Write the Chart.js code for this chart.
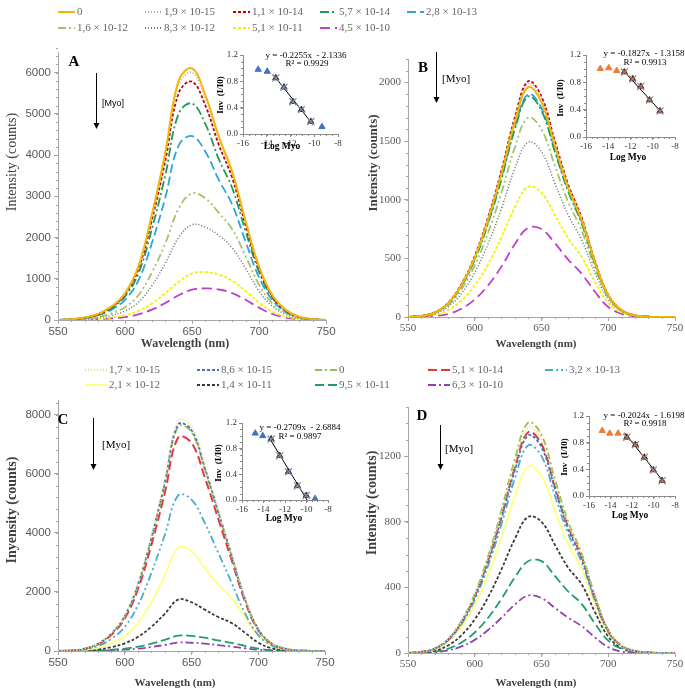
<!DOCTYPE html>
<html>
<head>
<meta charset="utf-8">
<title>Myo quenching spectra</title>
<script src="https://cdn.jsdelivr.net/npm/chart.js@4.4.1/dist/chart.umd.min.js"></script>
<style>
  body { margin: 0; background: #fff; }
  #fig { position: relative; width: 685px; height: 688px; overflow: hidden; font-family: "Liberation Serif", "Times New Roman", serif; }
  #fig canvas { position: absolute; }
  .txt { position: absolute; white-space: pre; line-height: 1; transform: translate(-50%, -50%); }
  .txt.left { transform: translate(0, -50%); }
  .txt.rot { transform: translate(-50%, -50%) rotate(-90deg); }
  .lg { position: absolute; white-space: nowrap; font-size: 11px; color: #666; line-height: 12px; transform: translateY(-50%); }
  .lg svg { vertical-align: middle; margin-right: 2px; }
  #marks { position: absolute; left: 0; top: 0; }
</style>
</head>
<body>
<div id="fig">
  <canvas id="chartA"></canvas>
  <canvas id="chartB"></canvas>
  <canvas id="chartC"></canvas>
  <canvas id="chartD"></canvas>
  <canvas id="insetA"></canvas>
  <canvas id="insetB"></canvas>
  <canvas id="insetC"></canvas>
  <canvas id="insetD"></canvas>
  <svg id="marks" width="685" height="688"></svg>
</div>
<script>
// --- DATA ---
const wavelength = [550, 560, 570, 580, 590, 600, 610, 620, 630, 640, 650, 660, 670, 680, 690, 700, 710, 720, 730, 740, 750];
const xTicks = [550, 600, 650, 700, 750];
const yTicksA = [0, 1000, 2000, 3000, 4000, 5000, 6000];
const yTicksB = [0, 500, 1000, 1500, 2000];
const yTicksC = [0, 2000, 4000, 6000, 8000];
const yTicksD = [0, 400, 800, 1200];
const insetXTicks = [-16, -14, -12, -10, -8];
const insetYTicks = [0, 0.4, 0.8, 1.2];

const legendAB = ['0', '1,9 × 10-15', '1,1 × 10-14', '5,7 × 10-14', '2,8 × 10-13', '1,6 × 10-12', '8,3 × 10-12', '5,1 × 10-11', '4,5 × 10-10'];
const legendCD = ['1,7 × 10-15', '8,6 × 10-15', '0', '5,1 × 10-14', '3,2 × 10-13', '2,1 × 10-12', '1,4 × 10-11', '9,5 × 10-11', '6,3 × 10-10'];

// one row per legend entry, intensities (counts) at each wavelength
const spectraA = [
  [0, 20, 60, 150, 330, 650, 1300, 2550, 4050, 5800, 6100, 5450, 4450, 3600, 2400, 1300, 600, 250, 80, 20, 0],
  [0, 20, 60, 150, 320, 640, 1280, 2500, 3980, 5700, 6000, 5380, 4400, 3560, 2380, 1290, 590, 240, 80, 20, 0],
  [0, 20, 55, 140, 310, 620, 1240, 2420, 3850, 5500, 5780, 5200, 4250, 3450, 2300, 1250, 570, 230, 75, 20, 0],
  [0, 18, 50, 130, 290, 570, 1130, 2200, 3500, 5000, 5250, 4750, 3900, 3200, 2150, 1170, 540, 220, 70, 18, 0],
  [0, 15, 45, 115, 250, 490, 960, 1860, 2960, 4230, 4460, 4080, 3400, 2800, 1900, 1040, 480, 200, 65, 15, 0],
  [0, 10, 30, 75, 160, 310, 600, 1150, 1850, 2700, 3070, 2950, 2600, 2200, 1550, 860, 400, 170, 55, 12, 0],
  [0, 8, 22, 55, 115, 220, 430, 830, 1370, 2000, 2310, 2250, 2050, 1750, 1250, 700, 330, 140, 45, 10, 0],
  [0, 4, 12, 28, 60, 115, 220, 400, 650, 920, 1130, 1160, 1100, 950, 700, 420, 200, 85, 28, 6, 0],
  [0, 3, 8, 18, 38, 72, 135, 250, 410, 600, 735, 765, 740, 650, 490, 300, 145, 60, 20, 5, 0]
];
const spectraB = [
  [0, 10, 38, 115, 270, 505, 830, 1220, 1660, 1960, 1830, 1460, 1100, 830, 470, 185, 58, 15, 3, 0, 0],
  [0, 10, 39, 118, 275, 515, 840, 1240, 1685, 1990, 1860, 1485, 1120, 840, 475, 188, 59, 15, 3, 0, 0],
  [0, 10, 40, 120, 280, 520, 850, 1250, 1700, 2010, 1880, 1500, 1130, 850, 480, 190, 60, 15, 3, 0, 0],
  [0, 10, 38, 113, 263, 490, 800, 1175, 1600, 1880, 1760, 1410, 1070, 800, 455, 180, 57, 14, 3, 0, 0],
  [0, 10, 38, 114, 266, 495, 808, 1190, 1615, 1900, 1780, 1430, 1085, 815, 462, 183, 58, 14, 3, 0, 0],
  [0, 8, 32, 100, 235, 440, 720, 1060, 1445, 1700, 1600, 1290, 980, 740, 420, 168, 53, 13, 3, 0, 0],
  [0, 7, 27, 85, 200, 380, 625, 925, 1265, 1490, 1410, 1140, 870, 660, 380, 150, 48, 12, 2, 0, 0],
  [0, 5, 18, 58, 140, 270, 450, 680, 935, 1110, 1060, 870, 670, 515, 300, 120, 38, 10, 2, 0, 0],
  [0, 2, 8, 26, 70, 150, 270, 430, 620, 760, 750, 630, 490, 370, 215, 85, 27, 7, 1, 0, 0]
];
const spectraC = [
  [0, 20, 80, 250, 600, 1200, 2300, 3900, 5800, 7800, 7600, 6300, 4800, 3300, 1800, 750, 260, 80, 20, 5, 0],
  [0, 20, 78, 245, 590, 1180, 2260, 3840, 5700, 7670, 7480, 6200, 4720, 3250, 1770, 740, 255, 78, 20, 5, 0],
  [0, 20, 78, 243, 585, 1170, 2240, 3800, 5650, 7600, 7410, 6150, 4680, 3220, 1760, 730, 253, 78, 20, 5, 0],
  [0, 18, 72, 225, 550, 1100, 2110, 3600, 5350, 7230, 7050, 5870, 4480, 3090, 1690, 705, 245, 75, 19, 5, 0],
  [0, 14, 55, 170, 410, 820, 1560, 2650, 3930, 5270, 5130, 4330, 3330, 2320, 1280, 540, 190, 60, 15, 4, 0],
  [0, 9, 35, 105, 250, 500, 950, 1650, 2550, 3500, 3380, 2800, 2250, 1800, 1150, 520, 180, 55, 14, 3, 0],
  [0, 5, 18, 55, 130, 260, 480, 820, 1260, 1740, 1650, 1400, 1150, 950, 620, 280, 95, 30, 8, 2, 0],
  [0, 2, 6, 17, 40, 80, 148, 250, 380, 520, 510, 450, 360, 275, 170, 80, 30, 10, 3, 0, 0],
  [0, 1, 3, 9, 22, 44, 80, 135, 205, 285, 280, 250, 200, 150, 92, 43, 16, 5, 1, 0, 0]
];
const spectraD = [
  [0, 7, 27, 83, 190, 352, 578, 852, 1155, 1375, 1302, 1040, 785, 598, 343, 137, 44, 12, 3, 0, 0],
  [0, 7, 26, 80, 184, 340, 557, 822, 1113, 1326, 1255, 1002, 757, 577, 331, 132, 42, 11, 3, 0, 0],
  [0, 7, 28, 85, 195, 360, 590, 870, 1180, 1405, 1330, 1060, 800, 610, 350, 140, 45, 12, 3, 0, 0],
  [0, 7, 27, 81, 187, 345, 565, 834, 1130, 1346, 1274, 1017, 770, 590, 340, 136, 44, 12, 3, 0, 0],
  [0, 6, 25, 76, 176, 325, 532, 785, 1063, 1266, 1200, 960, 727, 556, 320, 128, 41, 11, 3, 0, 0],
  [0, 5, 22, 68, 158, 292, 478, 705, 955, 1138, 1082, 870, 665, 515, 298, 120, 38, 10, 2, 0, 0],
  [0, 4, 15, 46, 108, 205, 340, 510, 695, 830, 800, 660, 520, 420, 250, 100, 32, 8, 2, 0, 0],
  [0, 2, 8, 26, 64, 125, 215, 330, 460, 560, 560, 470, 375, 300, 180, 75, 25, 6, 1, 0, 0],
  [0, 1, 5, 16, 40, 80, 140, 215, 295, 350, 335, 275, 215, 165, 95, 35, 8, 1, 0, 0, 0]
];

// insets: log of the Myo concentration vs Inv(I/I0)
const logMyoAB = [-14.72, -13.96, -13.24, -12.55, -11.80, -11.08, -10.29, -9.35];
const logMyoCD = [-14.77, -14.07, -13.29, -12.49, -11.68, -10.85, -10.02, -9.20];
const invA = [0.98, 0.95, 0.85, 0.71, 0.49, 0.37, 0.19, 0.11];
const invB = [1.00, 1.01, 0.97, 0.95, 0.85, 0.74, 0.54, 0.38];
const invC = [1.04, 1.00, 0.95, 0.69, 0.44, 0.22, 0.07, 0.02];
const invD = [0.98, 0.94, 0.94, 0.88, 0.77, 0.58, 0.39, 0.23];
// trend line end points
const trendA = [[-13.45, 0.90], [-10.1, 0.14]];
const trendB = [[-12.75, 0.99], [-9.2, 0.36]];
const trendC = [[-13.5, 0.98], [-9.95, 0.0]];
const trendD = [[-12.7, 0.95], [-9.05, 0.21]];
const fitText = {
  A: ['y = -0.2255x  - 2.1336', 'R² = 0.9929'],
  B: ['y = -0.1827x  - 1.3158', 'R² = 0.9913'],
  C: ['y = -0.2709x  - 2.6884', 'R² = 0.9897'],
  D: ['y = -0.2024x  - 1.6198', 'R² = 0.9918']
};

// --- STYLES ---
const stylesAB = [
  { c: '#F2B705', d: [], w: 2 },
  { c: '#9FA8B8', d: [1, 2], w: 1.5 },
  { c: '#C00000', d: [3, 2], w: 1.8 },
  { c: '#1E9B57', d: [9, 3, 2, 3], w: 1.8 },
  { c: '#2FA4D8', d: [9, 4], w: 1.8 },
  { c: '#A5C26B', d: [8, 3, 2, 3, 2, 3], w: 1.8 },
  { c: '#6E6E6E', d: [1, 2], w: 1.5 },
  { c: '#F2F200', d: [3, 2], w: 1.8 },
  { c: '#C03FC8', d: [10, 5], w: 1.8 }
];
const stylesCD = [
  { c: '#F1D977', d: [1, 2], w: 1.8 },
  { c: '#4472C4', d: [3, 2], w: 1.8 },
  { c: '#92C050', d: [7, 3, 2, 3], w: 1.8 },
  { c: '#E03A3A', d: [9, 4], w: 2 },
  { c: '#4BACC6', d: [8, 3, 2, 3, 2, 3], w: 1.8 },
  { c: '#FFFF80', d: [], w: 1.8 },
  { c: '#3A3A3A', d: [3, 2], w: 1.8 },
  { c: '#1E9E6A', d: [9, 4], w: 1.8 },
  { c: '#9440B0', d: [8, 3, 2, 3], w: 1.8 }
];
const axisColor = '#A6A6A6';
const sansTicks = { family: '"Liberation Sans", Arial, sans-serif', size: 11.5 };
const serifTicks = { family: '"Liberation Serif", serif', size: 11 };

// --- HELPERS ---
const fig = document.getElementById('fig');
const place = (cv, left, top, w, h) => {
  cv.style.left = left + 'px'; cv.style.top = top + 'px';
  cv.width = w; cv.height = h;
  cv.style.width = w + 'px'; cv.style.height = h + 'px';
};
const addText = (text, x, y, css, cls) => {
  const el = document.createElement('div');
  el.className = 'txt' + (cls ? ' ' + cls : '');
  el.textContent = text;
  el.style.cssText += `left:${x}px;top:${y}px;${css || ''}`;
  fig.appendChild(el);
};
const fixedTicks = list => s => { s.ticks = list.map(v => ({ value: v })); };

// small minor tick marks along both axes, placed through the scales
const minorTicks = {
  id: 'minorTicks',
  afterDraw(chart, args, opts) {
    const ctx = chart.ctx;
    ctx.save();
    ctx.strokeStyle = opts.color; ctx.lineWidth = 1;
    ['x', 'y'].forEach(id => {
      const sc = chart.scales[id], step = opts[id];
      if (!sc || !step) return;
      const n = Math.round((sc.max - sc.min) / step);
      for (let k = 0; k <= n; k++) {
        const p = Math.round(sc.getPixelForValue(sc.min + k * step)) + 0.5;
        ctx.beginPath();
        if (id === 'x') { ctx.moveTo(p, sc.top); ctx.lineTo(p, sc.top + opts.len); }
        else { ctx.moveTo(sc.right, p); ctx.lineTo(sc.right - opts.len, p); }
        ctx.stroke();
      }
    });
    ctx.restore();
  }
};

// --- MAIN SPECTRA ---
const spectrumChart = (id, area, yw, spectra, styles, yMax, yTicks, yMinor, tickFont) => {
  const cv = document.getElementById(id);
  const left = area[0] - yw, top = area[2] - 10;
  place(cv, left, top, area[1] + 16 - left, area[3] + 22 - top);
  return new Chart(cv, {
    type: 'line',
    data: {
      datasets: spectra.map((vals, i) => ({
        data: vals.map((v, k) => ({ x: wavelength[k], y: v })),
        borderColor: styles[i].c, borderDash: styles[i].d, borderWidth: styles[i].w,
        pointRadius: 0, tension: 0.4, fill: false
      }))
    },
    options: {
      responsive: false, animation: false, events: [],
      layout: { padding: { left: 0, top: 10, right: 16, bottom: 0 } },
      plugins: { legend: { display: false }, tooltip: { enabled: false }, minorTicks: { x: 10, y: yMinor, len: 2, color: axisColor } },
      scales: {
        x: {
          type: 'linear', min: 550, max: 750, afterFit: s => { s.height = 22; },
          afterBuildTicks: fixedTicks(xTicks),
          ticks: { font: tickFont, color: '#595959', padding: 1, maxRotation: 0, callback: v => String(v) },
          grid: { drawOnChartArea: false, tickLength: 4, color: axisColor },
          border: { color: axisColor }
        },
        y: {
          min: 0, max: yMax, afterFit: s => { s.width = yw; },
          afterBuildTicks: fixedTicks(yTicks),
          ticks: { font: tickFont, color: '#595959', padding: 3, callback: v => String(v) },
          grid: { drawOnChartArea: false, tickLength: 4, color: axisColor },
          border: { color: axisColor }
        }
      }
    },
    plugins: [minorTicks]
  });
};

// --- INSETS ---
const insetChart = (id, area, logs, inv, fitFrom, fitTo, trend, outColor, fitColor) => {
  const cv = document.getElementById(id);
  const left = area[0] - 26, top = area[2] - 8;
  place(cv, left, top, area[1] + 10 - left, area[3] + 16 - top);
  const pts = logs.map((x, i) => ({ x, y: inv[i] }));
  const fit = pts.filter((p, i) => i >= fitFrom && i <= fitTo);
  const out = pts.filter((p, i) => i < fitFrom || i > fitTo);
  const tf = { family: '"Liberation Serif", serif', size: 9 };
  return new Chart(cv, {
    type: 'scatter',
    data: {
      datasets: [
        { data: fit, pointStyle: 'crossRot', pointRadius: 5, borderColor: '#8C8C8C', borderWidth: 1.2, order: 0 },
        { data: fit, pointStyle: 'triangle', pointRadius: 3.6, backgroundColor: fitColor, borderColor: fitColor, order: 1 },
        { data: trend.map(p => ({ x: p[0], y: p[1] })), showLine: true, pointRadius: 0, borderColor: '#000', borderWidth: 1, order: 2 },
        { data: out, pointStyle: 'triangle', pointRadius: 3.6, backgroundColor: outColor, borderColor: outColor, order: 3 }
      ]
    },
    options: {
      responsive: false, animation: false, events: [],
      layout: { padding: { left: 0, top: 8, right: 10, bottom: 0 } },
      plugins: { legend: { display: false }, tooltip: { enabled: false }, minorTicks: { x: 0.5, y: 0.1, len: 2, color: '#8C8C8C' } },
      scales: {
        x: {
          min: -16, max: -8, afterFit: s => { s.height = 16; },
          afterBuildTicks: fixedTicks(insetXTicks),
          ticks: { font: tf, color: '#333', padding: 1, maxRotation: 0, callback: v => String(v) },
          grid: { drawOnChartArea: false, tickLength: 3, color: '#8C8C8C' },
          border: { color: '#8C8C8C' }
        },
        y: {
          min: 0, max: 1.2, afterFit: s => { s.width = 26; },
          afterBuildTicks: fixedTicks(insetYTicks),
          ticks: { font: tf, color: '#333', padding: 2, callback: v => v.toFixed(1) },
          grid: { drawOnChartArea: false, tickLength: 3, color: '#8C8C8C' },
          border: { color: '#8C8C8C' }
        }
      }
    },
    plugins: [minorTicks]
  });
};

spectrumChart('chartA', [58, 326, 52, 320], 58, spectraA, stylesAB, 6500, yTicksA, 200, sansTicks);
spectrumChart('chartB', [408, 675, 59, 317], 48, spectraB, stylesAB, 2200, yTicksB, 100, serifTicks);
spectrumChart('chartC', [58, 325, 400, 651], 58, spectraC, stylesCD, 8500, yTicksC, 400, sansTicks);
spectrumChart('chartD', [408, 675, 407, 653], 48, spectraD, stylesCD, 1500, yTicksD, 100, serifTicks);

insetChart('insetA', [243, 338, 55, 134], logMyoAB, invA, 2, 6, trendA, '#4472C4', '#1F3864');
insetChart('insetB', [586, 675, 55, 137], logMyoAB, invB, 3, 7, trendB, '#ED7D31', '#6B2410');
insetChart('insetC', [242, 328, 423, 500], logMyoCD, invC, 2, 6, trendC, '#4472C4', '#1F3864');
insetChart('insetD', [589, 675, 416, 496], logMyoCD, invD, 3, 7, trendD, '#ED7D31', '#6B2410');

// --- LEGENDS ---
const drawLegend = (names, styles, xs, rows, sw) => {
  names.forEach((name, i) => {
    const s = styles[i];
    const el = document.createElement('div');
    el.className = 'lg';
    el.style.left = xs[i % 5] + 'px';
    el.style.top = rows[Math.floor(i / 5)] + 'px';
    el.innerHTML = `<svg width="${sw}" height="6"><line x1="0" y1="3" x2="${sw}" y2="3" stroke="${s.c}" stroke-width="2" stroke-dasharray="${s.d.length ? s.d.join(' ') : 'none'}"/></svg>`;
    el.appendChild(document.createTextNode(name));
    fig.appendChild(el);
  });
};
drawLegend(legendAB, stylesAB, [58, 145, 233, 320, 407], [11, 27], 17);
drawLegend(legendCD, stylesCD, [85, 197, 315, 428, 545], [369, 384], 22);

// --- TITLES & ANNOTATIONS ---
const bold = 'font-weight:bold;';
addText('Intensity (counts)', 12, 162, 'font-size:14px;color:#404040;', 'rot');
addText('Intensity (counts)', 372, 163, bold + 'font-size:13px;color:#404040;', 'rot');
addText('Inyensity (counts)', 12, 510, bold + 'font-size:14px;color:#404040;', 'rot');
addText('Intensity (counts)', 372, 503, bold + 'font-size:14px;color:#404040;', 'rot');
addText('Wavelength (nm)', 185, 343, bold + 'font-size:12px;color:#404040;');
addText('Wavelength (nm)', 536, 343, bold + 'font-size:11px;color:#404040;');
addText('Wavelength (nm)', 175, 682, bold + 'font-size:11px;color:#404040;');
addText('Wavelength (nm)', 536, 682, bold + 'font-size:11px;color:#404040;');

addText('A', 74, 61, bold + 'font-size:15px;');
addText('B', 423, 67, bold + 'font-size:15px;');
addText('C', 63, 419, bold + 'font-size:15px;');
addText('D', 422, 415, bold + 'font-size:15px;');

addText('[Myo]', 102, 103, 'font-family:"Liberation Sans",Arial,sans-serif;font-size:9px;', 'left');
addText('[Myo]', 442, 78, 'font-size:11px;', 'left');
addText('[Myo]', 102, 444, 'font-size:11px;', 'left');
addText('[Myo]', 445, 448, 'font-size:11px;', 'left');

const insetTitles = [
  ['A', 220, 95, 282, 147, 306, 55, 307, 63],
  ['B', 560, 98, 628, 158, 644, 53, 645, 62],
  ['C', 218, 463, 284, 519, 300, 427, 300, 436],
  ['D', 564, 457, 630, 516, 644, 415, 645, 423]
];
insetTitles.forEach(([k, yx, yy, lx, ly, ex, ey, rx, ry]) => {
  addText('Inv  (I/I0)', yx, yy, bold + 'font-size:9px;', 'rot');
  addText('Log Myo', lx, ly, bold + 'font-size:9.5px;');
  addText(fitText[k][0], ex, ey, 'font-size:9px;');
  addText(fitText[k][1], rx, ry, 'font-size:9px;');
});

// arrows showing rising Myo concentration
const marks = document.getElementById('marks');
[[96, 73, 129], [436, 52, 103], [93, 418, 470], [440, 425, 470]].forEach(([x, y1, y2]) => {
  marks.insertAdjacentHTML('beforeend',
    `<line x1="${x + 0.5}" y1="${y1}" x2="${x + 0.5}" y2="${y2 - 5}" stroke="#000" stroke-width="1"/>` +
    `<polygon points="${x - 2.5},${y2 - 6} ${x + 3.5},${y2 - 6} ${x + 0.5},${y2}" fill="#000"/>`);
});
</script>
</body>
</html>
